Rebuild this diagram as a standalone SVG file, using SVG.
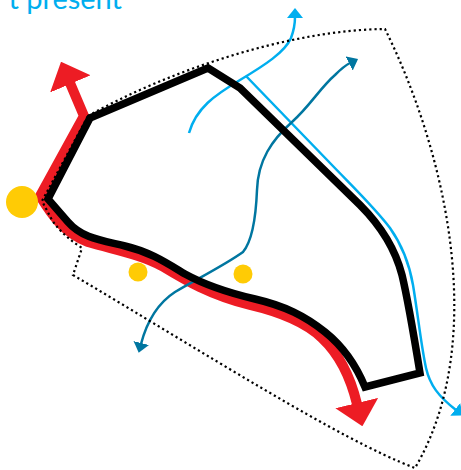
<svg xmlns="http://www.w3.org/2000/svg" width="461" height="470" viewBox="0 0 461 470">
<style>
.bg{fill:#ffffff}
.title{font-family:Lato,"Open Sans","Liberation Sans",sans-serif;font-size:29px;fill:#00AEEF}
.red{fill:none;stroke:#ED1C24;stroke-width:10;stroke-linejoin:miter}
.blk{fill:none;stroke:#000000;stroke-width:7.5;stroke-linejoin:miter;stroke-miterlimit:10}
.dot{fill:none;stroke:#000000;stroke-width:2.2;stroke-dasharray:2.2 3}
.cyan{fill:none;stroke:#00AEEF;stroke-width:2.5}
.teal{fill:none;stroke:#0076A0;stroke-width:2.5}
.sun{fill:#FFCB05}
</style>
<defs>
<marker id="ahRed" markerUnits="userSpaceOnUse" viewBox="0 0 24 44" markerWidth="24" markerHeight="44" refX="1" refY="22" orient="auto-start-reverse">
<path d="M0,0 L24,22 L0,44 Z" fill="#ED1C24"/>
</marker>
<marker id="ahCyan" markerUnits="userSpaceOnUse" viewBox="0 0 10 16" markerWidth="10" markerHeight="16" refX="1" refY="8" orient="auto-start-reverse">
<path d="M0,0 L10,8 L0,16 Z" fill="#00AEEF"/>
</marker>
<marker id="ahTeal" markerUnits="userSpaceOnUse" viewBox="0 0 10 16" markerWidth="10" markerHeight="16" refX="1" refY="8" orient="auto-start-reverse">
<path d="M0,0 L10,8 L0,16 Z" fill="#0076A0"/>
</marker>
</defs>
<rect class="bg" x="0" y="0" width="461" height="470"/>
<text class="title" x="122" y="9" text-anchor="end">t present</text>
<g id="connectors">
<path id="red-route" class="red" d="M70,83 L84,116 L40,196 C50,212 62,232 88,242 C115,250 140,254 162,266 C185,280 210,295 250,305 C280,312 305,322 322,338 C338,353 350,375 357,404" marker-start="url(#ahRed)" marker-end="url(#ahRed)"/>
<path id="cyan-main" class="cyan" d="M189,133 C196,108 215,95 240,80 C265,65 285,52 291,38 C294,30 295,24 295,17" marker-end="url(#ahCyan)"/>
<path id="cyan-branch" class="cyan" d="M246,76 L330,163 C355,189 375,208 390,228 C402,245 409,262 413,285 C418,315 421,345 426,368 C430,385 438,396 456,410" marker-end="url(#ahCyan)"/>
<path id="teal-route" class="teal" d="M141,344 C146,325 155,305 175,292 C195,280 225,265 243,252 C253,240 256,215 257,190 C258,160 272,140 292,122 C310,106 320,88 335,75 C342,68 346,65 350,63" marker-start="url(#ahTeal)" marker-end="url(#ahTeal)"/>
</g>
<g id="boundary">
<path class="dot" d="M88,116 C170,70 290,30 385,29 C445,150 490,340 415,468 C340,440 200,350 73,275 L82,248 C70,240 60,232 52,220 L42,201 Z"/>
</g>
<g id="area">
<path class="blk" d="M90,118 L208,68 L240,88 L360,205 C380,225 395,248 402,275 C408,300 413,330 420,373 L365,387 C358,370 345,348 325,332 C305,316 285,306 255,299 C225,292 205,285 185,274 C165,262 150,252 125,246 C100,240 82,238 68,222 L48,199 Z"/>
</g>
<g id="point-large"><circle class="sun" cx="22" cy="202" r="16"/></g>
<g id="point-a"><circle class="sun" cx="138" cy="272" r="9.5"/></g>
<g id="point-b"><circle class="sun" cx="243" cy="274" r="9.5"/></g>
</svg>
